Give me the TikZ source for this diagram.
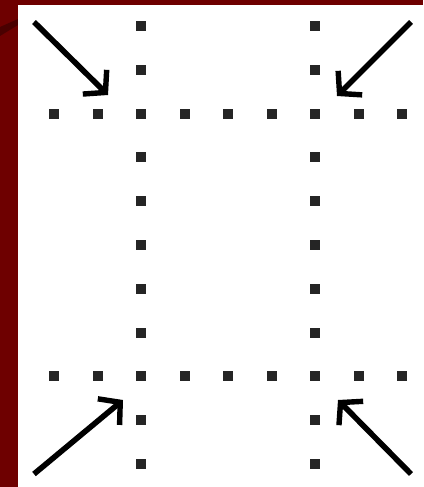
\documentclass[tikz,border=0pt]{standalone}
\usepackage{tikz}
\usetikzlibrary{arrows.meta}
\definecolor{slideRed}{HTML}{6E0000}
\definecolor{slideDark}{HTML}{4A0000}
\definecolor{dotGray}{HTML}{252525}

\begin{document}
\begin{tikzpicture}[x=1pt,y=-1pt,
  sqdot/.style={fill=dotGray,draw=none,minimum size=10pt,inner sep=0pt,outer sep=0pt},
  pointer/.style={line width=5.6pt,-{Straight Barb[length=15pt,width=34pt,line width=5.4pt]}}]
\useasboundingbox (0,0) rectangle (423,487);
% slide background
\fill[slideRed] (0,0) rectangle (423,487);
\fill[slideDark] (0,27) -- (18,19) -- (18,25) -- (0,36) -- cycle;
\fill[white] (18,5) rectangle (423,487);
% two vertical dotted lines
\foreach \k in {0,...,10}{
  \node[sqdot] (a\k) at (141,{26+43.8*\k}) {};
  \node[sqdot] (b\k) at (315,{26+43.8*\k}) {};
}
% two horizontal dotted lines
\foreach \i in {0,1,3,4,5,7,8}{
  \node[sqdot] (t\i) at ({54+43.5*\i},113.6) {};
  \node[sqdot] (u\i) at ({54+43.5*\i},376.4) {};
}
% arrows towards the crossings
\coordinate (tlS) at (34,22);
\coordinate (tlE) at (108,95);
\coordinate (trS) at (411,22);
\coordinate (trE) at (337,96);
\coordinate (blS) at (34,474);
\coordinate (blE) at (123,400);
\coordinate (brS) at (411,474);
\coordinate (brE) at (338,400);
\draw[pointer] (tlS) -- (tlE);
\draw[pointer] (trS) -- (trE);
\draw[pointer] (blS) -- (blE);
\draw[pointer] (brS) -- (brE);
\end{tikzpicture}
\end{document}
